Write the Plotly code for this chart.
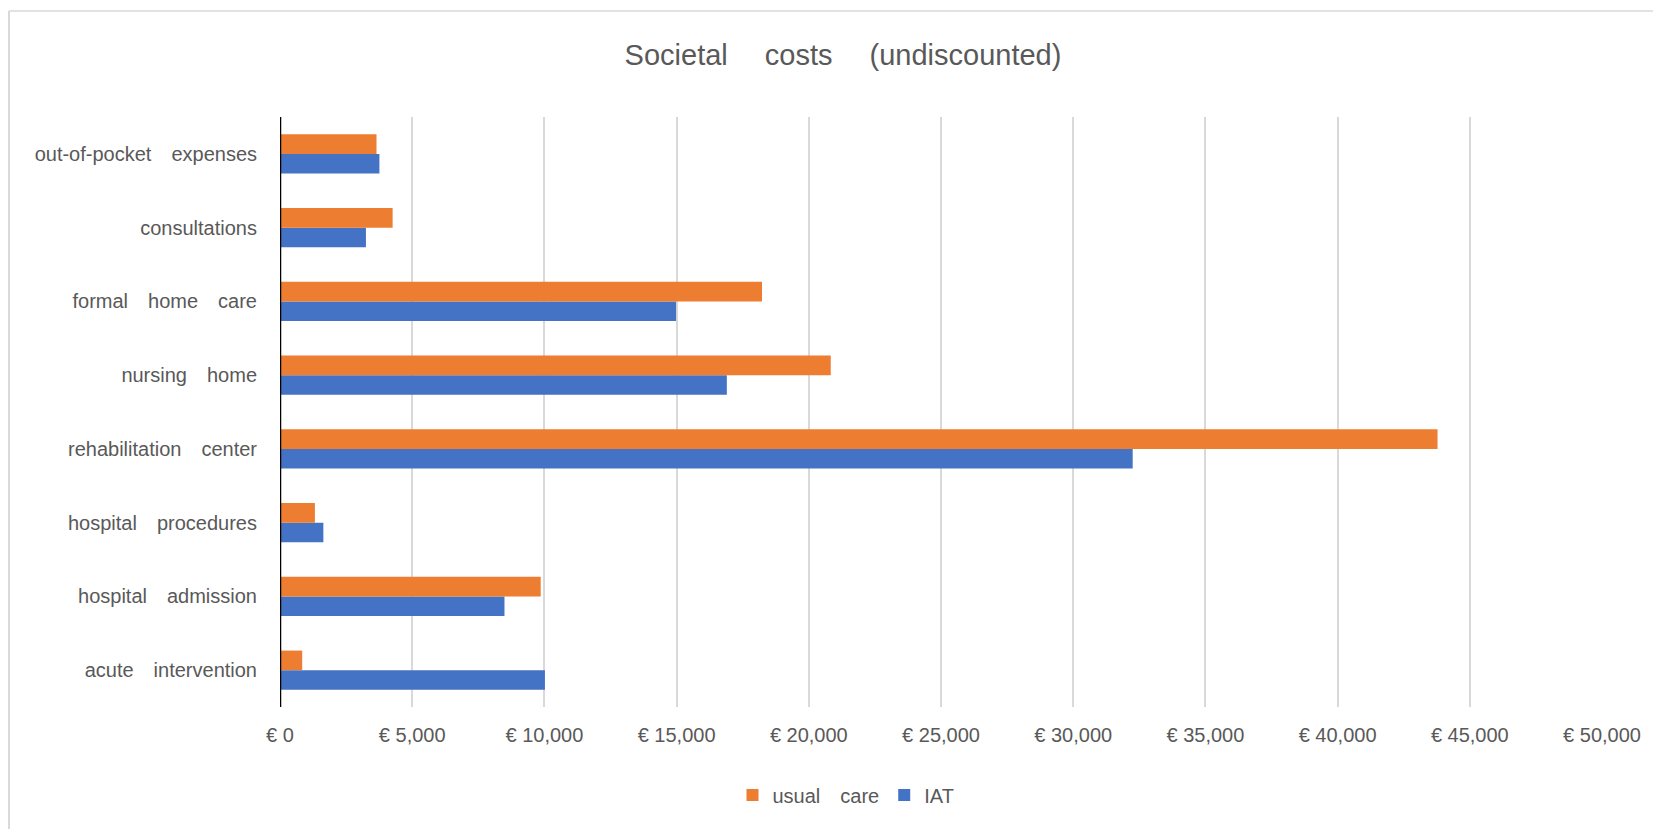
import plotly.graph_objects as go

categories = ["acute intervention", "hospital admission", "hospital procedures",
              "rehabilitation center", "nursing home", "formal home care",
              "consultations", "out-of-pocket expenses"]
usual_care = [840, 9860, 1320, 43780, 20830, 18230, 4260, 3650]
iat = [10020, 8490, 1640, 32250, 16900, 14980, 3250, 3760]
tick_vals = [0, 5000, 10000, 15000, 20000, 25000, 30000, 35000, 40000, 45000, 50000]
tick_text = ["€ 0", "€ 5,000", "€ 10,000", "€ 15,000", "€ 20,000", "€ 25,000",
             "€ 30,000", "€ 35,000", "€ 40,000", "€ 45,000", "€ 50,000"]


def wide(s, sp="\u2003"):
    return s.replace(" ", sp)

OFF = 8  # page body margin
W, H = 1661 - OFF, 829 - OFF
L, R, T, B = 280 - OFF, 59, 117 - OFF, 122
pw, ph = W - L - R, H - T - B

def px(x):
    return (x - OFF - L) / pw

def py(y):
    return (H - B - (y - OFF)) / ph

fig = go.Figure()
fig.add_trace(go.Bar(y=[wide(c) for c in categories], x=iat, orientation="h", name="IAT",
                     marker=dict(color="#4472C4", line=dict(width=0))))
fig.add_trace(go.Bar(y=[wide(c) for c in categories], x=usual_care, orientation="h",
                     name=wide("usual care"),
                     marker=dict(color="#ED7D31", line=dict(width=0))))

font_family = "Liberation Sans, Arial, sans-serif"
fig.update_layout(
    width=W, height=H,
    margin=dict(l=L, r=R, t=T, b=B),
    paper_bgcolor="white", plot_bgcolor="white",
    barmode="group", bargap=0.47, bargroupgap=0,
    title=dict(text=wide("Societal costs (undiscounted)", "\u2003 "), xref="container",
               x=(843 - OFF) / W, xanchor="center",
               yref="container", y=1 - (55 - OFF) / H, yanchor="middle",
               font=dict(family=font_family, size=29, color="#595959")),
    font=dict(family=font_family, size=20, color="#595959"),
    showlegend=True,
    legend=dict(orientation="h", traceorder="reversed", x=px(846), xanchor="center",
                y=py(795), yanchor="middle", font=dict(size=20, color="#595959"),
                itemwidth=30),
    xaxis=dict(range=[0, 50000], tickvals=tick_vals, ticktext=tick_text,
               showgrid=True, gridcolor="#D9D9D9", gridwidth=2, zeroline=False,
               showline=False, ticks="", ticklabelstandoff=14,
               tickfont=dict(size=20, color="#595959")),
    yaxis=dict(showgrid=False, zeroline=False, showline=False, ticks="",
               ticklabelstandoff=22, tickfont=dict(size=20, color="#595959")),
    shapes=[
        dict(type="line", xref="x", yref="paper", x0=0, x1=0, y0=0, y1=1,
             line=dict(color="black", width=2.5)),
        dict(type="line", xref="paper", yref="paper",
             x0=px(9), x1=px(1661), y0=py(11), y1=py(11),
             line=dict(color="#D9D9D9", width=1.5), layer="below"),
        dict(type="line", xref="paper", yref="paper",
             x0=px(9), x1=px(9), y0=py(11), y1=py(829),
             line=dict(color="#D9D9D9", width=2), layer="below"),
    ],
)

fig.write_html("out.html")
